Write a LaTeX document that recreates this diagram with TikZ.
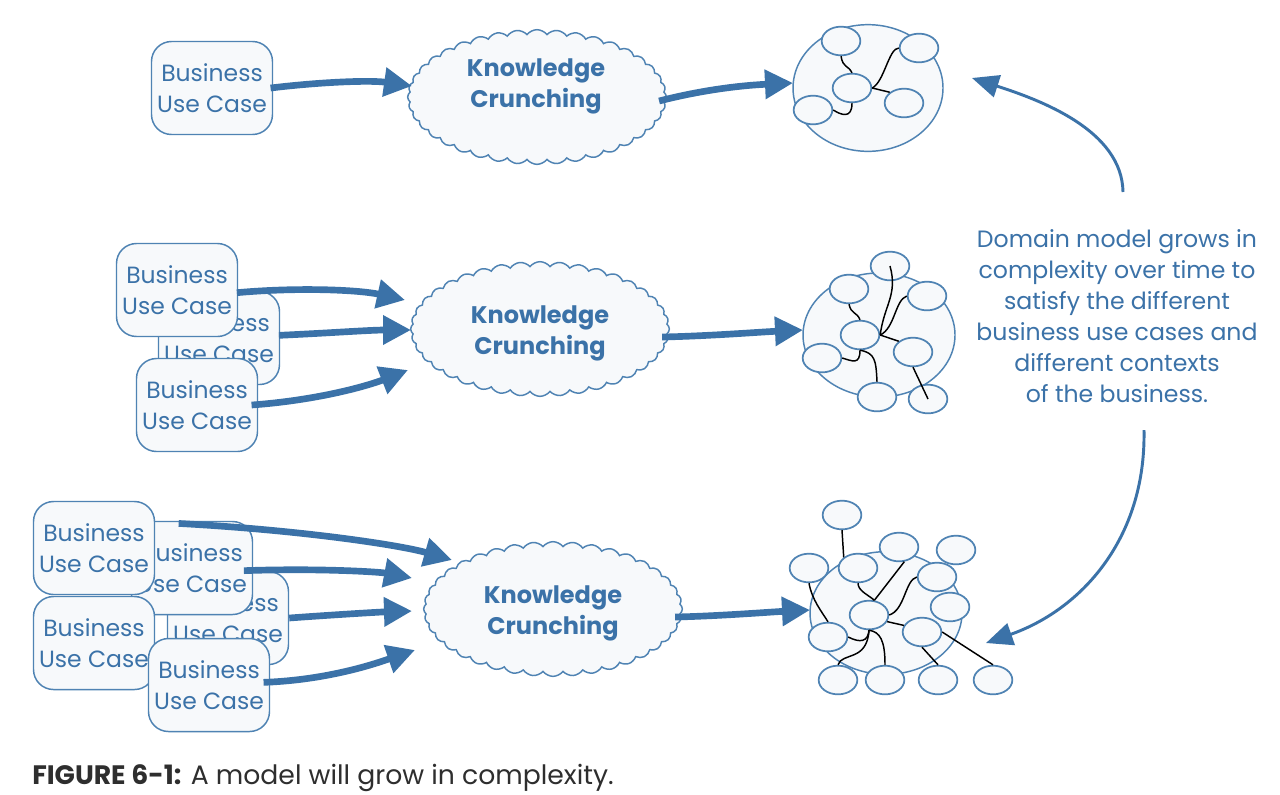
\documentclass[tikz,border=0pt]{standalone}
\usepackage{fontspec}
\setmainfont{Poppins}
\usetikzlibrary{shapes.geometric,shapes.symbols,arrows.meta}
\definecolor{tblue}{HTML}{3B72A8}
\definecolor{bord}{HTML}{4F83B3}
\definecolor{fillc}{HTML}{F7F9FB}
\definecolor{capc}{HTML}{2E2E2E}
\tikzset{
 ucbox/.style={draw=bord, line width=1.1pt, fill=fillc, rounded corners=15pt, minimum width=90.75pt, minimum height=69.75pt, inner sep=0pt, align=center, text=tblue, font=\fontsize{17.6}{23.25}\selectfont},
 kcloud/.style={cloud, cloud puffs=40, cloud puff arc=105, cloud ignores aspect, draw=bord, line width=1.1pt, fill=fillc, minimum width=194pt, minimum height=101pt, inner sep=0pt},
 kctext/.style={align=center, text=tblue, inner sep=0pt, font=\bfseries\fontsize{18}{23.25}\selectfont},
 bigell/.style={ellipse, draw=bord, line width=1.1pt, fill=fillc, inner sep=0pt},
 smell/.style={ellipse, draw=bord, line width=1.3pt, fill=fillc, minimum width=29pt, minimum height=21.5pt, inner sep=0pt},
 flowarrow/.style={draw=tblue, line width=5pt, -{Triangle[length=21pt,width=21pt]}},
 modellink/.style={draw=black, line width=1.1pt},
 growarrow/.style={draw=tblue, line width=2.2pt, -{Triangle[length=20pt,width=17pt]}},
 notetext/.style={align=center, text=tblue, font=\fontsize{17.7}{23.25}\selectfont},
}
\begin{document}
\begin{tikzpicture}[x=0.75pt,y=-0.75pt]
\useasboundingbox[fill=white] (0,0) rectangle (1280,794);

% ---------- Row 1 ----------
\node[ucbox] (r1box) at (212,88) {Business\\Use Case};
\node[kcloud] (r1cl) at (537,97) {};
\node[kctext] (r1kt) at (536,86) {Knowledge\\Crunching};
\node[bigell, minimum width=112.5pt, minimum height=95pt] (r1m) at (868,88) {};
\node[smell] (r1a) at (841,41) {};
\node[smell] (r1b) at (919,48) {};
\node[smell] (r1c) at (852,88) {};
\node[smell] (r1d) at (904,103) {};
\node[smell] (r1e) at (813,110) {};
\draw[modellink] (r1a.south) .. controls +(2,12) and +(-4,-8) .. (r1c.north);
\draw[modellink] (r1c.east) .. controls +(12,-6) and +(-10,0) .. (r1b.west);
\draw[modellink] (r1c.east) -- (r1d.north west);
\draw[modellink] (r1c.south) .. controls +(0,16) and +(8,5) .. (r1e.east);
\coordinate (t1a) at (412,86);
\coordinate (t1b) at (793,83);
\draw[flowarrow] ([xshift=-2pt]r1box.east) .. controls (320,82) and (370,80) .. (t1a);
\draw[flowarrow] ([xshift=-6pt,yshift=-3pt]r1cl.east) .. controls (710,88) and (750,85) .. (t1b);

% ---------- Row 2 ----------
\node[ucbox] (r2b) at (219,338) {Business\\Use Case};
\node[ucbox] (r2a) at (177,290) {Business\\Use Case};
\node[ucbox] (r2c) at (197,405) {Business\\Use Case};
\node[kcloud] (r2cl) at (540,329) {};
\node[kctext] (r2kt) at (540,333) {Knowledge\\Crunching};
\node[bigell, minimum width=114pt, minimum height=93pt] (r2m) at (879,335) {};
\node[smell] (r2sa) at (890,266) {};
\node[smell] (r2sb) at (849,289) {};
\node[smell] (r2sc) at (927,296) {};
\node[smell] (r2sd) at (860,335) {};
\node[smell] (r2se) at (913,352) {};
\node[smell] (r2sf) at (822,358) {};
\node[smell] (r2sg) at (877,397) {};
\node[smell] (r2sh) at (928,399) {};
\draw[modellink] (r2sa.center) .. controls (898,295) and (884,305) .. (r2sd.east);
\draw[modellink] (r2sc.west) .. controls (895,300) and (895,328) .. (r2sd.east);
\draw[modellink] (r2sb.south) .. controls +(2,10) and +(-3,-8) .. (r2sd.north);
\draw[modellink] (r2sd.east) -- (r2se.north west);
\draw[modellink] (r2sd.south) .. controls +(0,15) and +(10,3) .. (r2sf.east);
\draw[modellink] (r2sd.south) .. controls (875,353) and (876,360) .. (r2sg.north);
\draw[modellink] (r2se.south) -- (r2sh.center);
\coordinate (t2a) at (405,300);
\coordinate (t2b) at (411,330);
\coordinate (t2c) at (408,370);
\coordinate (t2d) at (803,330);
\draw[flowarrow] ([xshift=-1pt,yshift=-2pt]r2a.east) .. controls (300,287) and (360,290) .. (t2a);
\draw[flowarrow] ([xshift=-1pt,yshift=2pt]r2b.east) .. controls (330,333) and (370,330) .. (t2b);
\draw[flowarrow] ([xshift=-5pt,yshift=0pt]r2c.east) .. controls (320,400) and (370,385) .. (t2c);
\draw[flowarrow] ([xshift=-6pt,yshift=-6pt]r2cl.east) .. controls (710,336) and (760,332) .. (t2d);

% ---------- Row 3 ----------
\node[ucbox] (r3c) at (228,618) {Business\\Use Case};
\node[ucbox] (r3b) at (192,568) {Business\\Use Case};
\node[ucbox] (r3a) at (94,548) {Business\\Use Case};
\node[ucbox] (r3d) at (94,643) {Business\\Use Case};
\node[ucbox] (r3e) at (209,685) {Business\\Use Case};
\node[kcloud] (r3cl) at (553,609) {};
\node[kctext] (r3kt) at (553,613) {Knowledge\\Crunching};
\node[bigell, minimum width=114pt, minimum height=92pt] (r3m) at (886,613) {};
\node[smell] (s3a) at (842,515) {};
\node[smell] (s3b) at (899,547) {};
\node[smell] (s3c) at (956,550) {};
\node[smell] (s3d) at (809,568) {};
\node[smell] (s3e) at (858,568) {};
\node[smell] (s3f) at (937,577) {};
\node[smell] (s3g) at (950,607) {};
\node[smell] (s3h) at (869,615) {};
\node[smell] (s3i) at (828,637) {};
\node[smell] (s3j) at (922,632) {};
\node[smell] (s3k) at (838,680) {};
\node[smell] (s3l) at (885,680) {};
\node[smell] (s3m) at (938,680) {};
\node[smell] (s3n) at (993,680) {};
\draw[modellink] (s3a.south) -- (s3e.north west);
\draw[modellink] (s3e.south) .. controls +(0,8) and +(-5,-5) .. (s3h.70);
\draw[modellink] (s3b.-70) -- (s3h.70);
\draw[modellink] (s3f.west) .. controls (905,580) and (905,610) .. (s3h.east);
\draw[modellink] (s3d.south) .. controls (812,600) and (822,612) .. (s3i.north);
\draw[modellink] (s3h.-20) -- (s3j.160);
\draw[modellink] (s3h.south) .. controls (868,642) and (860,643) .. (s3i.east);
\draw[modellink] (s3h.south) .. controls (867,662) and (842,652) .. (s3k.north);
\draw[modellink] (s3h.south) .. controls (880,632) and (885,640) .. (s3l.north);
\draw[modellink] (s3j.east) -- (s3n.north);
\draw[modellink] (s3j.south) -- (s3m.north);
\coordinate (t3a) at (452,560);
\coordinate (t3b) at (412,578);
\coordinate (t3c) at (412,611);
\coordinate (t3d) at (415,650);
\coordinate (t3e) at (810,610);
\draw[flowarrow] ([xshift=-10pt,yshift=-2pt]r3b.north) .. controls (300,530) and (400,545) .. (t3a);
\draw[flowarrow] ([xshift=-7pt,yshift=-2pt]r3b.east) .. controls (320,568) and (380,572) .. (t3b);
\draw[flowarrow] ([xshift=0pt,yshift=0pt]r3c.east) .. controls (330,615) and (380,612) .. (t3c);
\draw[flowarrow] ([xshift=-5pt,yshift=2pt]r3e.east) .. controls (330,680) and (380,662) .. (t3d);
\draw[flowarrow] ([xshift=-6pt,yshift=-6pt]r3cl.east) .. controls (720,616) and (770,612) .. (t3e);

% ---------- Note and growth arrows ----------
\node[notetext] (nt) at (1117,316) {Domain model grows in\\complexity over time to\\satisfy the different\\business use cases and\\different contexts\\of the business.};
\coordinate (g1s) at (1123,192);
\coordinate (g1e) at (972,78);
\coordinate (g2s) at (1144,430);
\coordinate (g2e) at (986,643);
\draw[growarrow] (g1s) .. controls (1122,130) and (1040,100) .. (g1e);
\draw[growarrow] (g2s) .. controls (1146,540) and (1080,610) .. (g2e);

% ---------- Caption ----------
\node[anchor=base west, inner sep=0pt, text=capc, font=\fontsize{20}{24}\selectfont] (cap) at (32,784) {\textbf{FIGURE 6-1:} A model will grow in complexity.};
\end{tikzpicture}
\end{document}
